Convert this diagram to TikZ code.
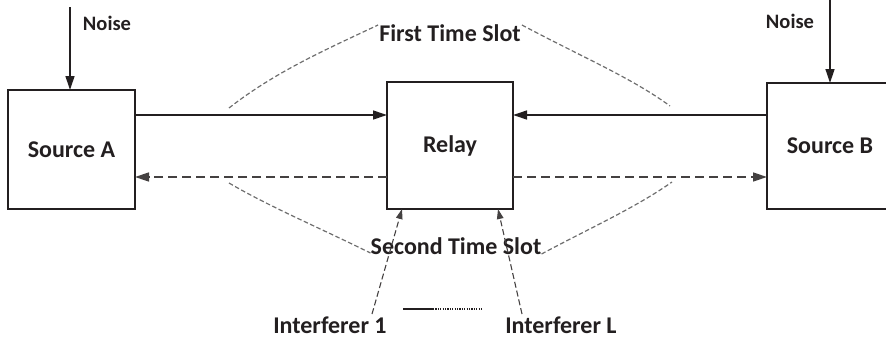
\documentclass[tikz,border=0pt]{standalone}
\usepackage{fontspec}
\setmainfont{Carlito}
\usetikzlibrary{arrows.meta}
\definecolor{ink}{HTML}{231F20}
\definecolor{slotgray}{HTML}{6E6E6E}
\tikzset{
  blk/.style={draw=ink, line width=1.5pt, inner sep=0pt, outer sep=0pt,
    text=ink, font=\bfseries\fontsize{24}{28}\selectfont},
  lbl/.style={text=ink, inner sep=0pt, font=\bfseries\fontsize{24}{28}\selectfont},
  smalllbl/.style={text=ink, inner sep=0pt, font=\bfseries\fontsize{20.5}{24}\selectfont},
  fwd/.style={draw=ink, line width=1.3pt, -{Triangle[length=14pt,width=9pt]}},
  bwd/.style={draw=ink!85, line width=1.5pt, dash pattern=on 9pt off 5pt,
    -{Triangle[length=14pt,width=9pt]}},
  slot/.style={draw=slotgray, line width=1.2pt, dash pattern=on 4.5pt off 2.5pt},
  intf/.style={draw=ink!85, line width=1.1pt, dash pattern=on 6pt off 3pt,
    -{Triangle[length=10pt,width=6.5pt]}},
}
\begin{document}
\begin{tikzpicture}[x=1pt,y=-1pt]
  \useasboundingbox (0,0) rectangle (886,343);
  \clip (0,0) rectangle (886,343);

  % the three terminals
  \node[blk, minimum width=127pt, minimum height=119pt] (srcA) at (71.5,149.5) {Source A};
  \node[blk, minimum width=126pt, minimum height=127pt] (relay) at (450,145.5) {Relay};
  \node[blk, minimum width=126pt, minimum height=126pt] (srcB) at (830,146) {Source B};

  % noise inputs
  \coordinate (nA) at (70,7);
  \coordinate (nB) at (830,-2);
  \draw[fwd] (nA) -- (nA |- srcA.north);
  \draw[fwd] (nB) -- (nB |- srcB.north);
  \node[smalllbl] (noiseA) at (107,23) {Noise};
  \node[smalllbl] (noiseB) at (790,21) {Noise};

  % first time slot: both sources send to the relay
  \draw[fwd] (srcA.east |- 0,115) -- (relay.west |- 0,115);
  \draw[fwd] (srcB.west |- 0,115) -- (relay.east |- 0,115);
  % second time slot: relay broadcasts back
  \draw[bwd] (relay.west |- 0,177) -- (srcA.east |- 0,177);
  \draw[bwd] (relay.east |- 0,177) -- (srcB.west |- 0,177);

  % time slot labels with their brackets
  \node[lbl] (slot1) at (450,33) {First Time Slot};
  \node[lbl] (slot2) at (456,246) {Second Time Slot};
  \draw[slot] (229,108) .. controls (275,72) and (325,50) .. ([xshift=-1pt,yshift=8pt]slot1.west);
  \draw[slot] ([xshift=1pt,yshift=8pt]slot1.east) .. controls (580,56) and (632,78) .. (670,106);
  \draw[slot] (229,183) .. controls (270,207) and (320,228) .. ([yshift=-7pt]slot2.west);
  \draw[slot] ([yshift=-8pt]slot2.east) .. controls (590,228) and (635,208) .. (672,182);

  % interferers
  \node[lbl] (int1) at (330,325) {Interferer 1};
  \node[lbl] (intL) at (561,325) {Interferer L};
  \coordinate (i1s) at (372,314);
  \coordinate (iLs) at (522,314);
  \draw[intf] (i1s) -- (relay.south west -| 402,0);
  \draw[intf] (iLs) -- (relay.south west -| 498,0);

  % ellipsis between the interferers
  \coordinate (e0) at (403,309);
  \coordinate (e1) at (433,309);
  \coordinate (e2) at (482,309);
  \draw[ink, line width=1.4pt] (e0) -- (e1);
  \draw[ink, line width=1.3pt, dash pattern=on 1.2pt off 1.2pt] (e1) -- (e2);
\end{tikzpicture}
\end{document}
